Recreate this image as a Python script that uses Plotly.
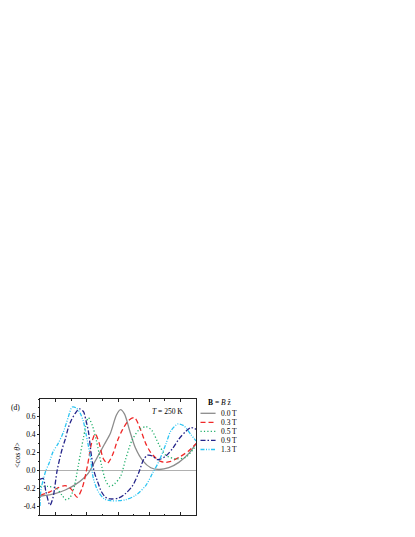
import plotly.graph_objects as go

# field values (legend) and curves
fields = ["0.0 T", "0.3 T", "0.5 T", "0.9 T", "1.3 T"]

x_00 = [0.00, 0.48, 0.81, 1.13, 1.39, 1.55, 1.84, 2.06, 2.26, 2.45, 2.58, 2.71, 2.87, 3.06, 3.29, 3.55, 3.81, 4.13, 4.45, 4.77, 5.00]
y_00 = [-0.29, -0.26, -0.22, -0.16, -0.09, -0.03, 0.15, 0.29, 0.42, 0.62, 0.68, 0.63, 0.45, 0.25, 0.11, 0.03, 0.01, 0.03, 0.09, 0.19, 0.30]

x_03 = [0.00, 0.32, 0.55, 0.81, 1.00, 1.19, 1.35, 1.52, 1.65, 1.77, 1.90, 2.03, 2.16, 2.32, 2.48, 2.65, 2.84, 3.03, 3.23, 3.39, 3.55, 3.71, 3.87, 4.03, 4.19, 4.52, 4.77, 5.00]
y_03 = [-0.28, -0.24, -0.20, -0.17, -0.21, -0.30, -0.20, 0.05, 0.30, 0.41, 0.30, 0.13, 0.08, 0.17, 0.33, 0.46, 0.56, 0.59, 0.45, 0.30, 0.20, 0.14, 0.10, 0.09, 0.10, 0.16, 0.22, 0.30]

x_05 = [0.00, 0.26, 0.52, 0.71, 0.84, 0.97, 1.10, 1.23, 1.39, 1.55, 1.68, 1.81, 1.97, 2.10, 2.23, 2.39, 2.58, 2.74, 2.94, 3.16, 3.39, 3.58, 3.81, 4.03, 4.35, 4.68, 5.00]
y_05 = [-0.18, -0.18, -0.20, -0.28, -0.33, -0.30, -0.18, 0.06, 0.36, 0.59, 0.50, 0.33, 0.06, -0.11, -0.18, -0.15, -0.07, 0.12, 0.33, 0.45, 0.49, 0.45, 0.29, 0.17, 0.13, 0.15, 0.28]

x_09 = [0.00, 0.10, 0.19, 0.32, 0.42, 0.55, 0.71, 0.81, 0.90, 1.00, 1.13, 1.26, 1.39, 1.48, 1.55, 1.65, 1.74, 1.84, 1.97, 2.10, 2.26, 2.52, 2.74, 2.97, 3.16, 3.32, 3.45, 3.61, 3.77, 4.03, 4.26, 4.45, 4.68, 4.84, 5.00]
y_09 = [-0.10, -0.09, -0.24, -0.39, -0.30, 0.00, 0.24, 0.35, 0.47, 0.56, 0.64, 0.69, 0.66, 0.55, 0.44, 0.16, -0.02, -0.12, -0.24, -0.30, -0.32, -0.31, -0.26, -0.17, -0.03, 0.12, 0.17, 0.16, 0.12, 0.16, 0.25, 0.35, 0.44, 0.48, 0.46]

x_13 = [0.00, 0.03, 0.10, 0.19, 0.29, 0.42, 0.58, 0.74, 0.90, 1.03, 1.16, 1.29, 1.39, 1.48, 1.61, 1.71, 1.87, 2.06, 2.26, 2.52, 2.74, 3.06, 3.39, 3.61, 3.81, 4.03, 4.19, 4.42, 4.61, 4.84, 5.00]
y_13 = [-0.40, -0.22, -0.11, 0.00, 0.08, 0.21, 0.30, 0.42, 0.59, 0.71, 0.70, 0.64, 0.55, 0.40, 0.16, -0.09, -0.24, -0.32, -0.34, -0.34, -0.33, -0.28, -0.17, -0.03, 0.10, 0.29, 0.44, 0.52, 0.50, 0.40, 0.33]

y_ticks = [-0.4, -0.2, 0.0, 0.2, 0.4, 0.6]
y_ticklabels = ["-0.4", "-0.2", "0.0", "0.2", "0.4", "0.6"]

colors = ["#8c8c8c", "#f02828", "#1fae6a", "#24248a", "#2cc4f2"]
dashes = ["solid", "5px,3px", "1.2px,2.2px", "5px,2px,1.5px,2px", "4px,1.5px,1px,1.5px,1px,1.5px"]

FONT = "Liberation Serif"

fig = go.Figure()
for xs, ys, name, c, d in zip([x_00, x_03, x_05, x_09, x_13],
                              [y_00, y_03, y_05, y_09, y_13],
                              fields, colors, dashes):
    fig.add_trace(go.Scatter(x=xs, y=ys, mode="lines", name=name,
                             line=dict(color=c, dash=d, width=1.3,
                                       shape="spline", smoothing=0.8)))

# page has an 8px body margin, so margins are trimmed by 8
fig.update_layout(
    width=415, height=537,
    margin=dict(l=32, r=227, t=391, b=30),
    paper_bgcolor="white", plot_bgcolor="white",
    showlegend=False,
    font=dict(family=FONT, size=7.5, color="black"),
)
fig.update_xaxes(range=[0, 5], showgrid=False, zeroline=False,
                 showline=True, linecolor="#222", linewidth=1, mirror="ticks",
                 ticks="inside", ticklen=3, tickcolor="#222", tick0=0.5, dtick=1,
                 showticklabels=False,
                 minor=dict(ticks="inside", ticklen=1.5, tickcolor="#222", dtick=0.5, tick0=0))
fig.update_yaxes(range=[-0.5, 0.8], showgrid=False,
                 zeroline=True, zerolinecolor="#b0b0b0", zerolinewidth=1,
                 showline=True, linecolor="#222", linewidth=1, mirror=True,
                 ticks="outside", ticklen=2, tickcolor="#222",
                 tickvals=y_ticks, ticktext=y_ticklabels,
                 minor=dict(ticks="outside", ticklen=1.5, tickcolor="#222", dtick=0.1, tick0=0),
                 tickfont=dict(family=FONT, size=7.5))

# hand-made compact legend (plotly's own legend rows are too tall)
pw = 155.5
ph = 116.0
def px(p):
    return (p - 40) / pw
def py(q):
    return (515 - q) / ph

fig.add_annotation(x=px(219), y=py(402.7), xref="paper", yref="paper",
                   text="<b>B</b> = <i>B</i> ẑ", showarrow=False,
                   xanchor="center", yanchor="middle", font=dict(size=7.5))
rows = [413.3, 422.3, 431.3, 440.3, 449.5]
for name, c, d, q in zip(fields, colors, dashes, rows):
    fig.add_shape(type="line", xref="paper", yref="paper",
                  x0=px(200), x1=px(215), y0=py(q), y1=py(q),
                  line=dict(color=c, dash=d, width=1.3))
    fig.add_annotation(x=px(218), y=py(q), xref="paper", yref="paper",
                       text=name, showarrow=False,
                       xanchor="left", yanchor="middle", font=dict(size=7.5))

fig.add_annotation(x=px(150), y=py(411.7), xref="paper", yref="paper",
                   text="<i>T</i> = 250 K", showarrow=False,
                   xanchor="left", yanchor="middle", font=dict(size=7.5))
fig.add_annotation(x=px(16), y=py(407), xref="paper", yref="paper",
                   text="(d)", showarrow=False,
                   xanchor="center", yanchor="middle", font=dict(size=7.5))
fig.add_annotation(x=px(17), y=py(455), xref="paper", yref="paper",
                   text="&lt;cos <i>θ</i>&gt;", showarrow=False, textangle=-90,
                   xanchor="center", yanchor="middle", font=dict(size=8))

fig.write_html("out.html")
